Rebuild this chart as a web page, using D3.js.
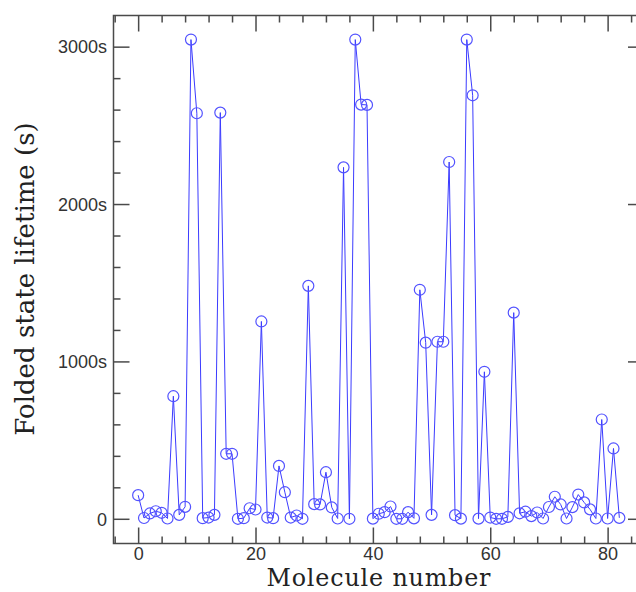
<!DOCTYPE html>
<html>
<head>
<meta charset="utf-8">
<script src="https://cdn.jsdelivr.net/npm/d3@7"></script>
<style>
  html, body { margin: 0; padding: 0; background: #fff; }
  svg { display: block; }
</style>
</head>
<body>
<svg id="chart" width="636" height="592"></svg>
<script>
// ---- data ----
const moleculeIndex = d3.range(0, 83);
const lifetimes = [150, 5, 34, 48, 38, 2, 779, 25, 76, 3045,
  2577, 4, 8, 25, 2581, 413, 413, 0, 4, 67,
  59, 1254, 8, 4, 336, 169, 8, 21, 0, 1480,
  93, 91, 296, 72, 2, 2233, 0, 3045, 2632, 2630,
  1, 32, 42, 78, 0, 0, 42, 3, 1455, 1119,
  25, 1125, 1125, 2267, 23, 1, 3045, 2691, 1, 934,
  8, 0, 0, 12, 1310, 35, 45, 17, 40, 2,
  75, 140, 91, 2, 74, 154, 104, 60, 2, 631,
  2, 447, 6];
const xMajorTicks = [0, 20, 40, 60, 80];
const xMinorTicks = d3.range(-4, 88, 4);
const yMajorTicks = [0, 1000, 2000, 3000];
const yMajorLabels = ["0", "1000s", "2000s", "3000s"];
const yMinorTicks = d3.range(0, 3200, 200);
const xTitle = "Molecule number";
const yTitle = "Folded state lifetime (s)";

// ---- layout ----
const frame = {left: 113.5, right: 644, top: 15.5, bottom: 543.5};
const svg = d3.select("#chart");
const x = d3.scaleLinear().domain([-4.2, 86.2]).range([frame.left, frame.right]);
const y = d3.scaleLinear().domain([-157, 3198]).range([frame.bottom, frame.top]);

const axisColor = "#4a4a4a";
const major = 16, minor = 7;

// frame
svg.append("rect")
  .attr("x", frame.left).attr("y", frame.top)
  .attr("width", frame.right - frame.left).attr("height", frame.bottom - frame.top)
  .attr("fill", "none").attr("stroke", axisColor).attr("stroke-width", 1.5);

function styleAxis(g) {
  g.select(".domain").remove();
  g.selectAll(".tick line").attr("stroke", axisColor).attr("stroke-width", 1.5);
}
// bottom
svg.append("g").attr("transform", `translate(0,${frame.bottom})`)
  .call(d3.axisBottom(x).tickValues(xMinorTicks.filter(v => !xMajorTicks.includes(v))).tickSize(-minor).tickFormat(""))
  .call(styleAxis);
svg.append("g").attr("transform", `translate(0,${frame.bottom})`)
  .call(d3.axisBottom(x).tickValues(xMajorTicks).tickSize(-major).tickFormat(d => d))
  .call(styleAxis)
  .call(g => g.selectAll(".tick text").attr("y", 16.5).attr("dy", null)
      .attr("font-family", "'Liberation Sans', Arial, sans-serif").attr("font-size", 18).attr("fill", "#333"));
// top
svg.append("g").attr("transform", `translate(0,${frame.top})`)
  .call(d3.axisTop(x).tickValues(xMinorTicks.filter(v => !xMajorTicks.includes(v))).tickSize(-minor).tickFormat(""))
  .call(styleAxis);
svg.append("g").attr("transform", `translate(0,${frame.top})`)
  .call(d3.axisTop(x).tickValues(xMajorTicks).tickSize(-major).tickFormat(""))
  .call(styleAxis);
// left
svg.append("g").attr("transform", `translate(${frame.left},0)`)
  .call(d3.axisLeft(y).tickValues(yMinorTicks.filter(v => !yMajorTicks.includes(v))).tickSize(-minor).tickFormat(""))
  .call(styleAxis);
svg.append("g").attr("transform", `translate(${frame.left},0)`)
  .call(d3.axisLeft(y).tickValues(yMajorTicks).tickSize(-major).tickFormat((d, i) => yMajorLabels[i]))
  .call(styleAxis)
  .call(g => g.selectAll(".tick text").attr("x", -6.5).attr("dy", "0.35em")
      .attr("font-family", "'Liberation Sans', Arial, sans-serif").attr("font-size", 18).attr("fill", "#333"));
// right
svg.append("g").attr("transform", `translate(${frame.right},0)`)
  .call(d3.axisRight(y).tickValues(yMinorTicks.filter(v => !yMajorTicks.includes(v))).tickSize(-minor).tickFormat(""))
  .call(styleAxis);
svg.append("g").attr("transform", `translate(${frame.right},0)`)
  .call(d3.axisRight(y).tickValues(yMajorTicks).tickSize(-major).tickFormat(""))
  .call(styleAxis);

// series
const pts = moleculeIndex.map((m, i) => [m, lifetimes[i]]);
svg.append("path")
  .datum(pts)
  .attr("fill", "none")
  .attr("stroke", "#3b3bff")
  .attr("stroke-width", 1)
  .attr("d", d3.line().x(d => x(d[0])).y(d => y(d[1])));
svg.append("g").selectAll("circle")
  .data(pts).join("circle")
  .attr("cx", d => x(d[0])).attr("cy", d => y(d[1]))
  .attr("r", 5.5)
  .attr("fill", "none")
  .attr("stroke", "#5252ff")
  .attr("stroke-width", 1.2);

// titles
svg.append("text")
  .attr("x", 378.5).attr("y", 586.2)
  .attr("text-anchor", "middle")
  .attr("font-family", "'DejaVu Serif', serif").attr("font-size", 23.8)
  .attr("textLength", 224).attr("lengthAdjust", "spacing")
  .attr("fill", "#222")
  .text(xTitle);
svg.append("text")
  .attr("transform", "translate(33.5,279) rotate(-90)")
  .attr("text-anchor", "middle")
  .attr("font-family", "'DejaVu Serif', serif").attr("font-size", 26)
  .attr("fill", "#222")
  .text(yTitle);
</script>
</body>
</html>
